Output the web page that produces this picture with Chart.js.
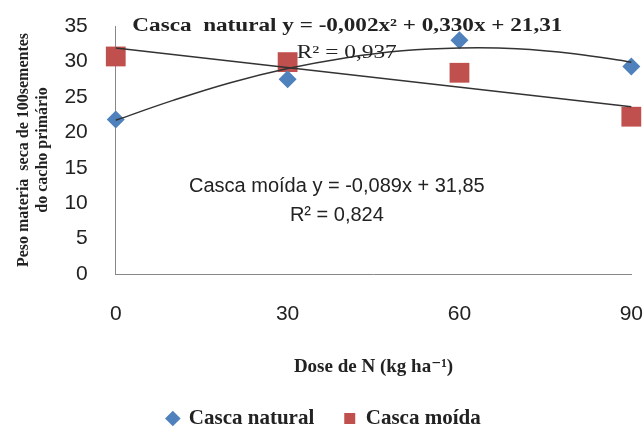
<!DOCTYPE html>
<html>
<head>
<meta charset="utf-8">
<script src="https://cdn.jsdelivr.net/npm/chart.js@4"></script>
<style>
  html, body { margin: 0; padding: 0; background: #fff; }
  #wrap { width: 644px; height: 427px; }
</style>
</head>
<body>
<div id="wrap"><canvas id="myChart" width="644" height="427"></canvas></div>
<script>
// doses of N (kg/ha)
const doses = [0, 30, 60, 90];
const cascaNatural = [21.8, 27.5, 33.0, 29.3];
const cascaMoida = [30.7, 29.9, 28.4, 22.2];

// trend lines
const trendNaturalX = [0, 10, 20, 30, 40, 50, 60, 70, 80, 90];
const trendNaturalY = [21.7, 24.5, 27.0, 29.0, 30.5, 31.5, 31.9, 31.8, 31.1, 29.9];
const trendMoidaX = [0, 90];
const trendMoidaY = [31.9, 23.6];

const yTicks = [0, 5, 10, 15, 20, 25, 30, 35];
const xTicks = [0, 30, 60, 90];

const serif = "'Liberation Serif', 'DejaVu Serif', serif";
const sans = "'Liberation Sans', Arial, sans-serif";

function toPoints(xs, ys){
    let pts = [];
    for(let i = 0;i < xs.length;i++){
        pts.push({x: xs[i], y: ys[i]});
    }
    return pts;
}

// text squeezed/stretched to a given width (the reference is stretched sideways)
function stretchText(ctx, text, x, y, width){
    let w = ctx.measureText(text).width;
    ctx.save();
    ctx.translate(x, y);
    ctx.scale(width / w, 1);
    ctx.fillText(text, 0, 0);
    ctx.restore();
}

// equation texts, drawn over the plot
const equationsPlugin = {
    id: 'equations',
    afterDatasetsDraw(chart){
        const ctx = chart.ctx;
        const xs = chart.scales.x, ys = chart.scales.y;
        ctx.save();
        ctx.fillStyle = '#222';
        ctx.textBaseline = 'middle';
        ctx.textAlign = 'left';
        ctx.font = 'bold 18px ' + serif;
        stretchText(ctx, 'Casca  natural y = -0,002x² + 0,330x + 21,31', xs.getPixelForValue(2.9), ys.getPixelForValue(34.9), 430);
        ctx.font = '18px ' + serif;
        stretchText(ctx, 'R² = 0,937', xs.getPixelForValue(31.6), ys.getPixelForValue(31.2), 100);
        ctx.textAlign = 'center';
        ctx.font = '20px ' + sans;
        ctx.fillText('Casca moída y = -0,089x + 31,85', xs.getPixelForValue(38.6), ys.getPixelForValue(12.4));
        ctx.fillText('R² = 0,824', xs.getPixelForValue(38.6), ys.getPixelForValue(8.3));
        ctx.restore();
    }
};

var ctx = document.getElementById('myChart').getContext('2d');
var myChart = new Chart(ctx, {
    type: 'scatter',
    data: {
        datasets: [
            {
                label: 'Casca natural',
                data: toPoints(doses, cascaNatural),
                pointStyle: 'rectRot',
                pointRadius: 9,
                backgroundColor: '#4F81BD',
                borderColor: '#4F81BD',
                borderWidth: 0,
                clip: false,
                order: 1
            },
            {
                label: 'Casca moída',
                data: toPoints(doses, cascaMoida),
                pointStyle: 'rect',
                pointRadius: 14,
                backgroundColor: '#C0504D',
                borderColor: '#C0504D',
                borderWidth: 0,
                clip: false,
                order: 1
            },
            {
                label: 'trend natural',
                data: toPoints(trendNaturalX, trendNaturalY),
                showLine: true,
                tension: 0.4,
                pointRadius: 0,
                borderColor: '#333',
                borderWidth: 1.5,
                clip: false,
                order: 0
            },
            {
                label: 'trend moida',
                data: toPoints(trendMoidaX, trendMoidaY),
                showLine: true,
                pointRadius: 0,
                borderColor: '#333',
                borderWidth: 1.5,
                clip: false,
                order: 0
            }
        ]
    },
    options: {
        responsive: false,
        animation: false,
        layout: { autoPadding: false, padding: { left: 4, right: 0, top: 26, bottom: -12 } },
        plugins: {
            tooltip: { enabled: false },
            legend: {
                position: 'bottom',
                labels: {
                    usePointStyle: true,
                    boxWidth: 11,
                    boxHeight: 11,
                    color: '#222',
                    font: { family: serif, size: 21, weight: 'bold' },
                    filter: function(item){ return item.datasetIndex < 2; },
                    padding: 30
                }
            }
        },
        scales: {
            x: {
                type: 'linear',
                min: 0,
                max: 90,
                afterBuildTicks: function(axis){ axis.ticks = xTicks.map(v => ({value: v})); },
                grid: { display: false, drawTicks: true, tickLength: 27 },
                border: { color: '#888', width: 1 },
                ticks: { color: '#222', font: { family: sans, size: 21 }, padding: 1 },
                title: {
                    display: true,
                    text: 'Dose de N (kg ha⁻¹)',
                    color: '#222',
                    font: { family: serif, size: 19, weight: 'bold' },
                    padding: { top: 27, bottom: 0 }
                }
            },
            y: {
                min: 0,
                max: 35,
                afterBuildTicks: function(axis){ axis.ticks = yTicks.map(v => ({value: v})); },
                grid: { display: false, drawTicks: true, tickLength: 24 },
                border: { color: '#888', width: 1 },
                ticks: { color: '#222', font: { family: sans, size: 21 }, padding: 4 },
                title: {
                    display: true,
                    text: ['Peso materia  seca de 100sementes', 'do cacho primário'],
                    color: '#222',
                    font: { family: serif, size: 16, weight: 'bold' },
                    padding: { top: 10, bottom: 8 }
                }
            }
        }
    },
    plugins: [equationsPlugin]
});
</script>
</body>
</html>
